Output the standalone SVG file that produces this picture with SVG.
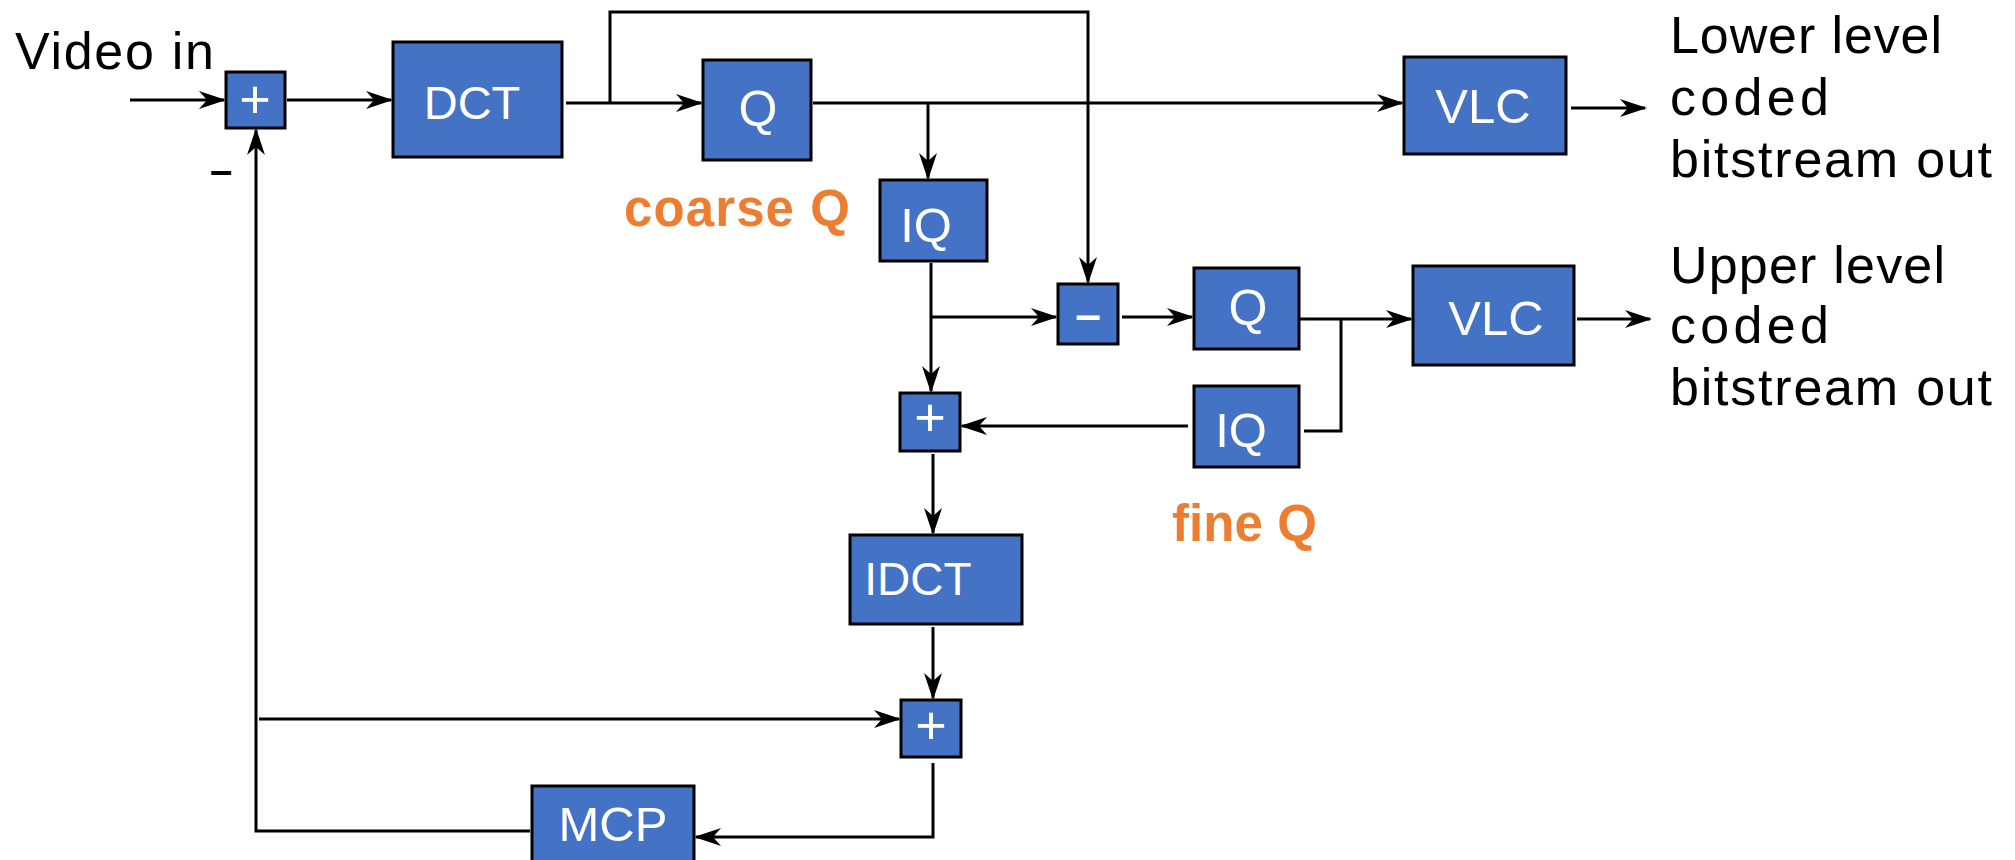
<svg xmlns="http://www.w3.org/2000/svg" width="2015" height="860" viewBox="0 0 2015 860">
  <defs>
    <style>
      .blk { fill: #4472C4; stroke: #000; stroke-width: 3; }
      .lbl { font-family: "Liberation Sans", Arial, sans-serif; font-size: 49px; fill: #fff; text-anchor: middle; }
      .sign { font-family: "Liberation Sans", Arial, sans-serif; font-size: 54px; fill: #fff; text-anchor: middle; }
      .txt { font-family: "Liberation Sans", Arial, sans-serif; font-size: 52px; fill: #000; }
      .note { font-family: "Liberation Sans", Arial, sans-serif; font-size: 51px; font-weight: bold; fill: #ED7D31; }
      .wire { fill: none; stroke: #000; stroke-width: 3; }
      .arr { marker-end: url(#stealth); }
    </style>
    <marker id="stealth" viewBox="-29 -10 32 20" refX="-2" refY="0" markerWidth="32" markerHeight="20" markerUnits="userSpaceOnUse" orient="auto">
      <path d="M0,0 L-27,-9 L-19,0 L-27,9 Z" fill="#000"/>
    </marker>
  </defs>

  <rect width="2015" height="860" fill="#fff"/>

  <!-- connectors -->
  <g id="connectors">
    <path class="wire arr" d="M130,100 H224"/>
    <path class="wire arr" d="M287,100 H391"/>
    <path class="wire arr" d="M566,103 H701"/>
    <path class="wire arr" d="M610,103 V12 H1088 V282"/>
    <path class="wire arr" d="M813,103 H1402"/>
    <path class="wire arr" d="M928,103 V178"/>
    <path class="wire arr" d="M931,263 V391"/>
    <path class="wire arr" d="M931,317 H1056"/>
    <path class="wire arr" d="M1122,317 H1192"/>
    <path class="wire arr" d="M1299,319 H1411"/>
    <path class="wire" d="M1341,319 V431 H1304"/>
    <path class="wire arr" d="M1188,426 H962"/>
    <path class="wire arr" d="M933,454 V533"/>
    <path class="wire arr" d="M933,627 V698"/>
    <path class="wire arr" d="M933,763 V837 H696"/>
    <path class="wire arr" d="M530,831 H256 V130"/>
    <path class="wire arr" d="M259,719 H899"/>
    <path class="wire arr" d="M1571,108 H1645"/>
    <path class="wire arr" d="M1577,319 H1650"/>
  </g>

  <!-- input and output labels -->
  <g id="labels">
    <text class="txt" x="15" y="69" textLength="199">Video in</text>
    <text x="210" y="184" style="font-family:'Liberation Sans',Arial,sans-serif;font-size:40px;font-weight:bold;" textLength="22">–</text>
    <text class="txt" x="1670" y="53" textLength="272">Lower level</text>
    <text class="txt" x="1670" y="115" textLength="159">coded</text>
    <text class="txt" x="1670" y="177" textLength="322">bitstream out</text>
    <text class="txt" x="1670" y="283" textLength="275">Upper level</text>
    <text class="txt" x="1670" y="343" textLength="159">coded</text>
    <text class="txt" x="1670" y="405" textLength="322">bitstream out</text>
    <text class="note" x="624" y="226" textLength="226">coarse Q</text>
    <text class="note" x="1172" y="541" textLength="145">fine Q</text>
  </g>

  <!-- blocks -->
  <g id="sum-in">
    <rect class="blk" x="226" y="72" width="59" height="56"/>
    <text class="sign" x="255" y="118">+</text>
  </g>
  <g id="dct">
    <rect class="blk" x="393" y="42" width="169" height="115"/>
    <text class="lbl" x="472" y="119" style="font-size:47px">DCT</text>
  </g>
  <g id="q-coarse">
    <rect class="blk" x="703" y="60" width="108" height="100"/>
    <text class="lbl" x="758" y="126" style="font-size:50px">Q</text>
  </g>
  <g id="iq-coarse">
    <rect class="blk" x="880" y="180" width="107" height="81"/>
    <text class="lbl" x="926" y="242">IQ</text>
  </g>
  <g id="diff">
    <rect class="blk" x="1058" y="284" width="60" height="60"/>
    <text x="1088" y="330" style="font-family:'Liberation Sans',Arial,sans-serif;font-size:46px;font-weight:bold;fill:#fff;text-anchor:middle;">–</text>
  </g>
  <g id="q-fine">
    <rect class="blk" x="1194" y="268" width="105" height="81"/>
    <text class="lbl" x="1248" y="325" style="font-size:50px">Q</text>
  </g>
  <g id="iq-fine">
    <rect class="blk" x="1194" y="386" width="105" height="81"/>
    <text class="lbl" x="1241" y="447">IQ</text>
  </g>
  <g id="sum-mid">
    <rect class="blk" x="900" y="393" width="60" height="58"/>
    <text class="sign" x="930" y="436">+</text>
  </g>
  <g id="idct">
    <rect class="blk" x="850" y="535" width="172" height="89"/>
    <text class="lbl" x="918" y="595" style="font-size:46px">IDCT</text>
  </g>
  <g id="sum-out">
    <rect class="blk" x="901" y="700" width="60" height="57"/>
    <text class="sign" x="931" y="744">+</text>
  </g>
  <g id="mcp">
    <rect class="blk" x="532" y="786" width="162" height="90"/>
    <text class="lbl" x="613" y="841">MCP</text>
  </g>
  <g id="vlc-lower">
    <rect class="blk" x="1404" y="57" width="162" height="97"/>
    <text class="lbl" x="1483" y="123">VLC</text>
  </g>
  <g id="vlc-upper">
    <rect class="blk" x="1413" y="266" width="161" height="99"/>
    <text class="lbl" x="1496" y="335">VLC</text>
  </g>
</svg>
